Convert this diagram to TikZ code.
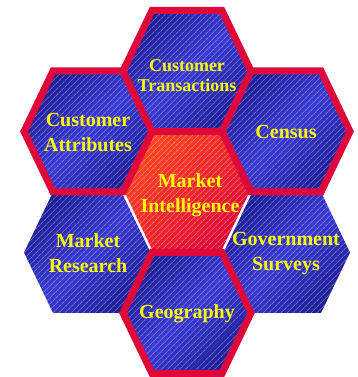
\documentclass[tikz,border=0pt]{standalone}
\usepackage{fontspec}
\setmainfont{Liberation Serif}
\usetikzlibrary{patterns.meta}

\definecolor{hexred}{RGB}{222,8,58}
\definecolor{hexblue}{RGB}{58,58,212}
\definecolor{hexdark}{RGB}{30,30,150}
\definecolor{coreorange}{RGB}{255,70,30}
\definecolor{hexyellow}{RGB}{250,250,0}

% one cell of the honeycomb: #1 style, #2 centre
\newcommand{\hexcell}[2]{%
  \path[shift={(#2)}, #1] (-64,0) -- (-35,-60.5) -- (35,-60.5) -- (64,0) -- (35,60.5) -- (-35,60.5) -- cycle;}

\begin{document}
\begin{tikzpicture}[
    x=1pt, y=1pt,
    stripes/.style={postaction={pattern={Lines[angle=45,distance=4pt,line width=0.9pt]}, pattern color=white, opacity=0.3}},
    bluehex/.style={top color=hexdark, bottom color=hexdark, middle color=hexblue, shading angle=45, stripes},
    rimhex/.style={bluehex, postaction={draw=hexred, line width=7pt, line join=miter}},
    corehex/.style={top color=coreorange, bottom color=hexred, shading angle=45, stripes, postaction={draw=white, line width=2.5pt, line join=miter}},
    hextext/.style={text=hexyellow, font=\fontsize{20}{25}\selectfont\bfseries, align=center}
  ]
  \useasboundingbox (0,0) rectangle (358,377);

  % centres of the seven cells
  \coordinate (core) at (187,185);
  \coordinate (trans) at (187,306);
  \coordinate (geo) at (187,64);
  \coordinate (attr) at (88,245.5);
  \coordinate (research) at (88,124.5);
  \coordinate (census) at (286,245.5);
  \coordinate (surveys) at (286,124.5);

  % plain cells below, rimmed cells on top
  \hexcell{bluehex}{research}
  \hexcell{bluehex}{surveys}
  \hexcell{corehex}{core}
  \hexcell{rimhex}{attr}
  \hexcell{rimhex}{census}
  \hexcell{rimhex}{trans}
  \hexcell{rimhex}{geo}

  \node[hextext, font=\fontsize{18}{20}\selectfont\bfseries] (transtext) at ([yshift=-5pt]trans) {Customer\\Transactions};
  \node[hextext] (attrtext) at ([yshift=-1pt]attr) {Customer\\Attributes};
  \node[hextext] (censustext) at ([yshift=-1pt]census) {Census};
  \node[hextext] (coretext) at ([xshift=3pt,yshift=-3pt]core) {Market\\Intelligence};
  \node[hextext] (researchtext) at ([yshift=-1pt]research) {Market\\Research};
  \node[hextext] (surveystext) at ([yshift=-1pt]surveys) {Government\\Surveys};
  \node[hextext] (geotext) at ([yshift=-1pt]geo) {Geography};
\end{tikzpicture}
\end{document}
